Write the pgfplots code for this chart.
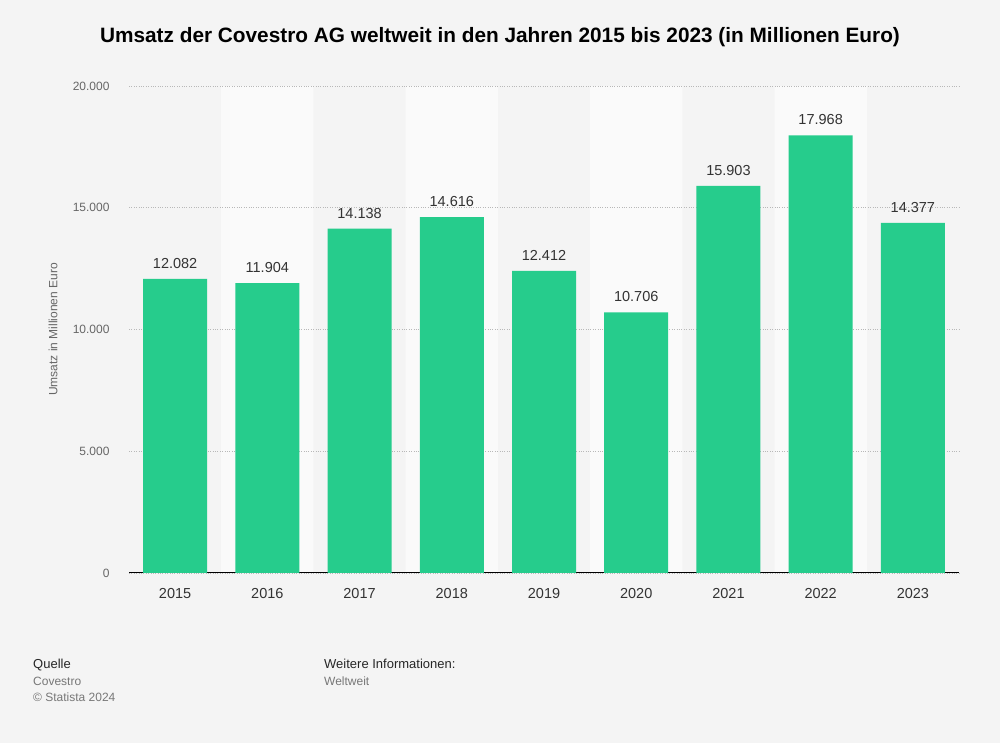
\documentclass[border=0pt]{standalone}
\usepackage{pgfplots}
\pgfplotsset{compat=1.18}
\usepackage{fontspec}
\setmainfont{Liberation Sans}
\definecolor{bg}{HTML}{F4F4F4}
\definecolor{band}{HTML}{FAFAFA}
\definecolor{bar}{HTML}{26CC8C}
\definecolor{txt}{HTML}{333333}
\definecolor{lab}{HTML}{666666}
\definecolor{foot}{HTML}{777777}
\pgfdeclarelayer{bgpage}
\pgfplotsset{layers/mine/.define layer set={bgpage,axis background,axis grid,axis ticks,axis lines,axis tick labels,main,axis descriptions,axis foreground}{}}
\begin{document}
\begin{tikzpicture}
\node[font=\fontsize{20.8bp}{24bp}\selectfont\bfseries, text=black] at (500bp,706bp) {Umsatz der Covestro AG weltweit in den Jahren 2015 bis 2023 (in Millionen Euro)};
\begin{axis}[
  set layers=mine,
  at={(129bp,170bp)}, anchor=south west,
  scale only axis, width=830bp, height=487bp,
  xmin=-0.5, xmax=8.5, ymin=0, ymax=20000,
  axis x line*=bottom, axis y line*=left,
  axis line style={-},
  x axis line style={black, line width=1pt},
  y axis line style={draw=none},
  major tick length=0pt,
  ytick={0,5000,10000,15000,20000},
  xtick={0,...,8},
  xticklabels={2015,2016,2017,2018,2019,2020,2021,2022,2023},
  /pgf/number format/.cd, fixed, precision=0, 1000 sep={.}, assume math mode=true,
  /pgfplots/.cd,
  scaled y ticks=false,
  ymajorgrids, grid style={dotted, black!28, line width=0.8pt},
  yticklabel style={font=\fontsize{12bp}{14bp}\selectfont, text=lab, xshift=-16bp},
  xticklabel style={font=\fontsize{14.5bp}{17bp}\selectfont, text=txt, yshift=-12bp},
  ylabel={Umsatz in Millionen Euro},
  every axis y label/.style={at={(axis description cs:0,0.5)}, rotate=90, anchor=center, yshift=76bp, font=\fontsize{12bp}{14bp}\selectfont, text=lab},
  ybar, bar shift=0pt,
]
\addplot[on layer=axis background, fill=band, draw=none, bar width=92.22bp] coordinates {(1,20000) (3,20000) (5,20000) (7,20000)};
\addplot[fill=bar, draw=none, bar width=64bp, nodes near coords,
  every node near coord/.append style={font=\fontsize{14.5bp}{17bp}\selectfont, text=txt, yshift=7bp}]
  coordinates {(0,12082) (1,11904) (2,14138) (3,14616) (4,12412) (5,10706) (6,15903) (7,17968) (8,14377)};
\end{axis}
\begin{pgfonlayer}{bgpage}
\fill[bg] (0bp,0bp) rectangle (1000bp,743bp);
\end{pgfonlayer}
\begin{scope}[every node/.style={anchor=base west, inner sep=0pt}]
\node[font=\fontsize{13bp}{15bp}\selectfont, text=black!85] at (33bp,74bp) {Quelle};
\node[font=\fontsize{12bp}{15bp}\selectfont, text=foot] at (33bp,57bp) {Covestro};
\node[font=\fontsize{12bp}{15bp}\selectfont, text=foot] at (33bp,41bp) {© Statista 2024};
\node[font=\fontsize{13bp}{15bp}\selectfont, text=black!85] at (324bp,74bp) {Weitere Informationen:};
\node[font=\fontsize{12bp}{15bp}\selectfont, text=foot] at (324bp,57bp) {Weltweit};
\end{scope}
\pgfresetboundingbox
\path[use as bounding box] (0bp,0bp) rectangle (1000bp,743bp);
\end{tikzpicture}
\end{document}
